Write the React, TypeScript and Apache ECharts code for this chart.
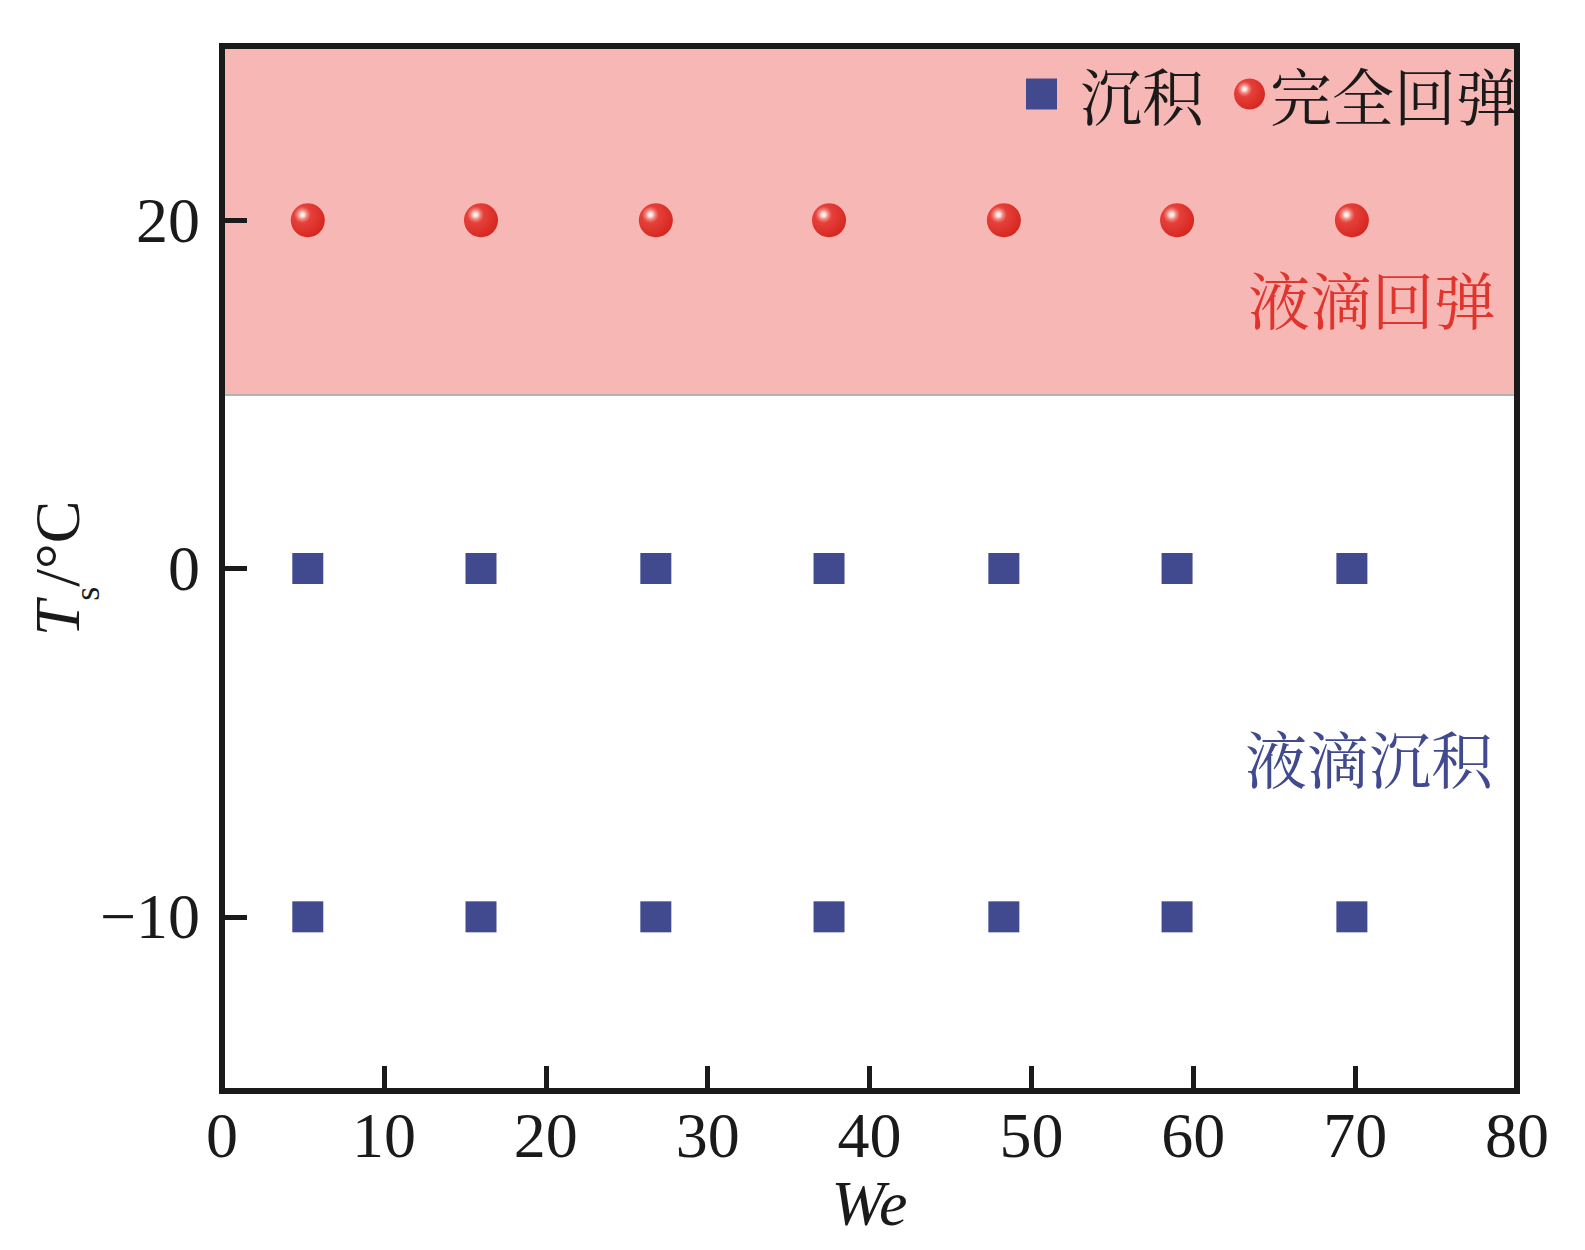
import React, { useEffect, useRef } from "react";
import * as echarts from "echarts";

// Weber numbers tested
const weValues = [5.3, 16.0, 26.8, 37.5, 48.3, 59.0, 69.8];
// Surface temperature levels (category axis, bottom to top)
const tempCategories = ["−10", "0", "20"];
const depositTemps = ["−10", "0"];
const reboundTemps = ["20"];
const seriesNames = ["沉积", "完全回弹"];
const regionLabels = ["液滴回弹", "液滴沉积"];

const SERIF = '"Liberation Serif", "Times New Roman", serif';
const CJK = '"Noto Serif CJK SC", "Noto Sans CJK SC", sans-serif';
const INK = "#1a1a1a";
const BLUE = "#414a8f";
const RED_TEXT = "#df352d";
const PINK = "#f7b7b4";

export default function App() {
  const ref = useRef<HTMLDivElement>(null);

  useEffect(() => {
    document.body.style.margin = "0";
    const chart = echarts.init(ref.current!, null, { renderer: "svg" });

    const depositData = depositTemps.flatMap((t) => weValues.map((w) => [w, t]));
    const reboundData = reboundTemps.flatMap((t) => weValues.map((w) => [w, t]));

    const sphere = new echarts.graphic.RadialGradient(0.34, 0.34, 0.72, [
      { offset: 0, color: "#ffffff" },
      { offset: 0.08, color: "#fde2de" },
      { offset: 0.2, color: "#f0837a" },
      { offset: 0.34, color: "#e6403a" },
      { offset: 1, color: "#d4261f" },
    ]);

    chart.setOption({
      animation: false,
      backgroundColor: "#ffffff",
      grid: {
        left: 222,
        right: 68,
        top: 46,
        bottom: 159,
        show: true,
        z: 10,
        borderColor: INK,
        borderWidth: 6,
        backgroundColor: "rgba(0,0,0,0)",
        containLabel: false,
        outerBoundsMode: "none",
      },
      legend: {
        left: 1021,
        top: 58,
        itemWidth: 31,
        itemHeight: 31,
        itemGap: 30,
        textStyle: { fontFamily: CJK, fontSize: 62, lineHeight: 62, color: INK },
        data: [
          { name: seriesNames[0], icon: "rect", textStyle: { padding: [0, 0, 0, 18] } },
          { name: seriesNames[1], icon: "circle" },
        ],
      },
      xAxis: {
        type: "value",
        min: 0,
        max: 80,
        interval: 10,
        name: "We",
        nameLocation: "middle",
        nameGap: 74,
        nameTextStyle: { fontFamily: SERIF, fontStyle: "italic", fontSize: 64, color: INK },
        axisLine: { show: true, lineStyle: { color: INK, width: 6 } },
        axisTick: { show: true, inside: true, length: 25, lineStyle: { color: INK, width: 5 } },
        axisLabel: { fontFamily: SERIF, fontSize: 64, color: INK, margin: 12 },
        splitLine: { show: false },
      },
      yAxis: {
        type: "category",
        data: tempCategories,
        boundaryGap: true,
        name: "{t|T}{s|s}{u|/°C}",
        nameLocation: "middle",
        nameRotate: 90,
        nameGap: 117,
        nameMoveOverlap: false,
        nameTextStyle: {
          rich: {
            t: { fontFamily: SERIF, fontStyle: "italic", fontSize: 64, lineHeight: 96, color: INK },
            s: { fontFamily: SERIF, fontSize: 36, lineHeight: 36, verticalAlign: "bottom", color: INK },
            u: { fontFamily: SERIF, fontSize: 64, lineHeight: 96, color: INK },
          },
        },
        axisLine: { show: true, lineStyle: { color: INK, width: 6 } },
        axisTick: {
          show: true,
          inside: true,
          alignWithLabel: true,
          length: 25,
          lineStyle: { color: INK, width: 5 },
        },
        axisLabel: { fontFamily: SERIF, fontSize: 64, color: INK, margin: 22 },
        splitArea: {
          show: true,
          interval: 0,
          areaStyle: { color: ["rgba(0,0,0,0)", "rgba(0,0,0,0)", PINK] },
        },
        splitLine: {
          show: true,
          interval: 0,
          lineStyle: {
            color: ["rgba(0,0,0,0)", "rgba(0,0,0,0)", "#9c9c9c", "rgba(0,0,0,0)"],
            width: 1.5,
          },
        },
      },
      graphic: [
        {
          type: "text",
          z: 100,
          right: 1585 - 1496,
          top: 267,
          style: { text: regionLabels[0], fontFamily: CJK, fontSize: 62, fill: RED_TEXT },
        },
        {
          type: "text",
          z: 100,
          right: 1585 - 1493,
          top: 726,
          style: { text: regionLabels[1], fontFamily: CJK, fontSize: 62, fill: BLUE },
        },
      ],
      series: [
        {
          name: seriesNames[0],
          type: "scatter",
          symbol: "rect",
          symbolSize: 31,
          itemStyle: { color: BLUE, opacity: 1 },
          data: depositData,
          z: 3,
        },
        {
          name: seriesNames[1],
          type: "scatter",
          symbol: "circle",
          symbolSize: 34,
          itemStyle: { color: sphere, opacity: 1 },
          data: reboundData,
          z: 3,
        },
      ],
    });

    return () => chart.dispose();
  }, []);

  return <div ref={ref} style={{ width: 1585, height: 1250 }} />;
}
